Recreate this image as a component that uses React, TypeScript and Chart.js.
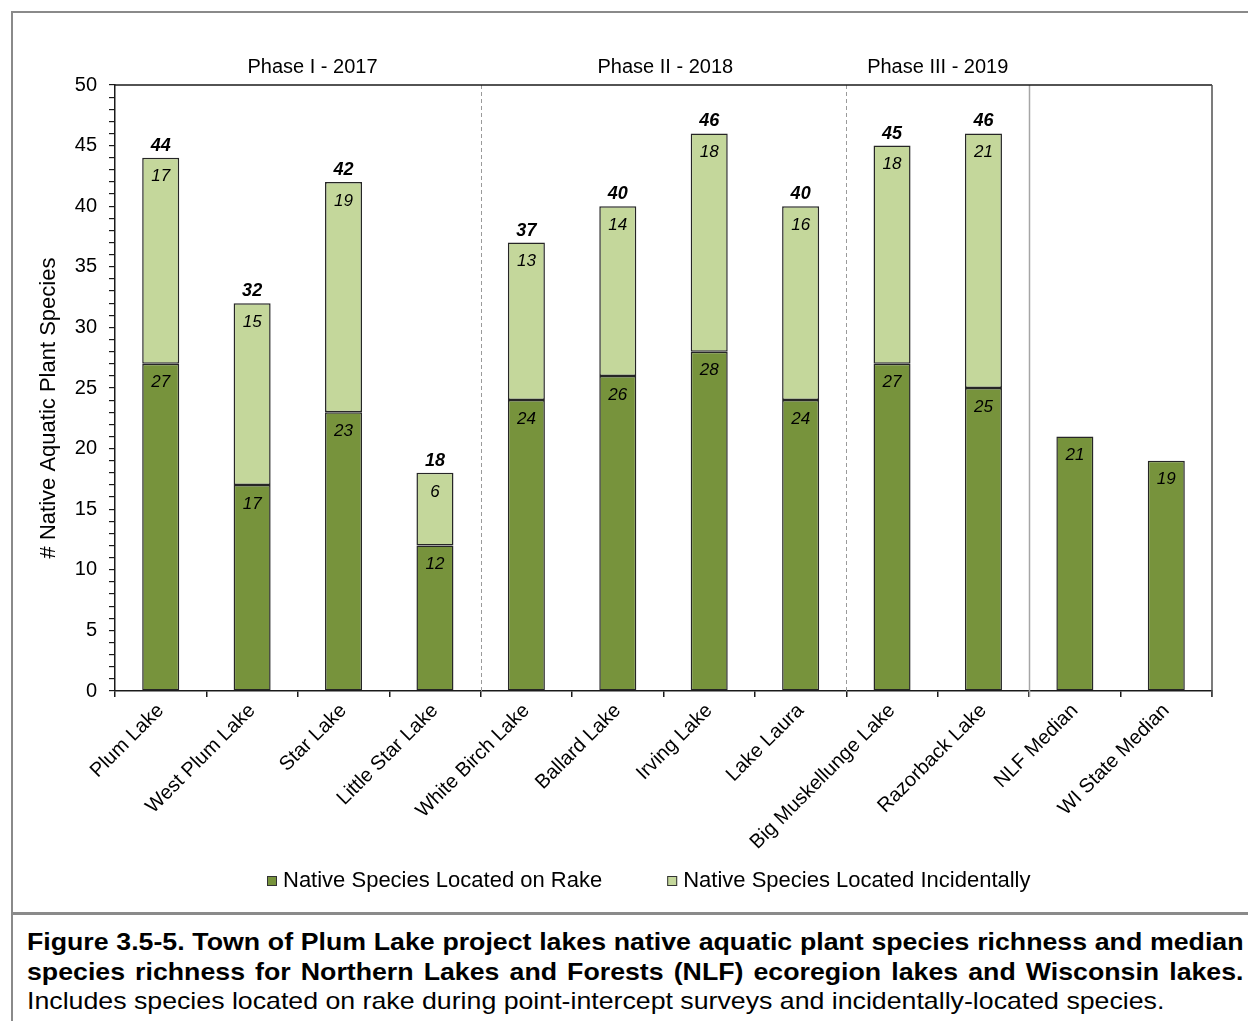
import React, { useEffect, useRef } from 'react';
import { Chart, registerables } from 'chart.js';

Chart.register(...registerables);

const FONT = "'Liberation Sans', Arial, Helvetica, sans-serif";

const categories = [
  'Plum Lake',
  'West Plum Lake',
  'Star Lake',
  'Little Star Lake',
  'White Birch Lake',
  'Ballard Lake',
  'Irving Lake',
  'Lake Laura',
  'Big Muskellunge Lake',
  'Razorback Lake',
  'NLF Median',
  'WI State Median',
];
const rakeSpecies = [27, 17, 23, 12, 24, 26, 28, 24, 27, 25, 21, 19];
const incidentalSpecies = [17, 15, 19, 6, 13, 14, 18, 16, 18, 21, null, null];
const seriesNames = ['Native Species Located on Rake', 'Native Species Located Incidentally'];
const seriesColors = ['#77933C', '#C4D79B'];
const phaseLabels = ['Phase I - 2017', 'Phase II - 2018', 'Phase III - 2019'];
const phaseCenters = [1.66, 5.52, 8.5];
const dashedDividers = [3.5, 7.5];
const solidDividers = [9.5];
const yAxisTitle = '# Native Aquatic Plant Species';
const captionLines = [
  'Figure 3.5-5.  Town of Plum Lake project lakes native aquatic plant species richness and median',
  'species richness for Northern Lakes and Forests (NLF) ecoregion lakes and Wisconsin lakes.',
  'Includes species located on rake during point-intercept surveys and incidentally-located species.',
];

const overlayPlugin = {
  id: 'overlay',
  beforeDatasetsDraw(chart: any) {
    const { ctx, chartArea: ca, scales } = chart;
    const x = scales.x;
    ctx.save();
    ctx.lineWidth = 1;
    ctx.strokeStyle = '#9a9a9a';
    ctx.setLineDash([4, 3]);
    dashedDividers.forEach((v) => {
      const px = Math.round(x.getPixelForValue(v)) + 0.5;
      ctx.beginPath();
      ctx.moveTo(px, ca.top);
      ctx.lineTo(px, ca.bottom);
      ctx.stroke();
    });
    ctx.setLineDash([]);
    ctx.strokeStyle = '#a6a6a6';
    ctx.lineWidth = 1.5;
    solidDividers.forEach((v) => {
      const px = Math.round(x.getPixelForValue(v)) + 0.5;
      ctx.beginPath();
      ctx.moveTo(px, ca.top);
      ctx.lineTo(px, ca.bottom + 6);
      ctx.stroke();
    });
    ctx.restore();
  },
  afterDatasetsDraw(chart: any) {
    const { ctx, chartArea: ca, scales } = chart;
    const x = scales.x;
    ctx.save();
    // plot border top + right
    ctx.strokeStyle = '#1a1a1a';
    ctx.lineWidth = 1.5;
    ctx.beginPath();
    ctx.moveTo(ca.left, ca.top);
    ctx.lineTo(ca.right, ca.top);
    ctx.stroke();
    ctx.strokeStyle = '#505050';
    ctx.beginPath();
    ctx.moveTo(ca.right, ca.top);
    ctx.lineTo(ca.right, ca.bottom + 6);
    ctx.stroke();

    // segment labels
    ctx.fillStyle = '#000';
    ctx.textAlign = 'center';
    ctx.textBaseline = 'middle';
    ctx.font = `italic 17px ${FONT}`;
    chart.data.datasets.forEach((ds: any, di: number) => {
      const meta = chart.getDatasetMeta(di);
      meta.data.forEach((bar: any, i: number) => {
        const v = ds.data[i];
        if (v === null || v === undefined) return;
        ctx.fillText(String(v), bar.x, bar.y + 19);
      });
    });
    // totals
    ctx.font = `bold italic 18px ${FONT}`;
    const topMeta = chart.getDatasetMeta(1);
    topMeta.data.forEach((bar: any, i: number) => {
      const inc = incidentalSpecies[i];
      if (inc === null || inc === undefined) return;
      const total = rakeSpecies[i] + inc;
      ctx.fillText(String(total), bar.x, bar.y - 12);
    });

    // phase labels
    ctx.font = `20px ${FONT}`;
    phaseLabels.forEach((t, i) => {
      ctx.fillText(t, x.getPixelForValue(phaseCenters[i]), 67);
    });

    // y-axis title
    ctx.save();
    ctx.translate(49, 408);
    ctx.rotate(-Math.PI / 2);
    ctx.font = `22px ${FONT}`;
    ctx.fillText(yAxisTitle, 0, 0);
    ctx.restore();

    // legend
    ctx.font = `22px ${FONT}`;
    ctx.textAlign = 'left';
    let lx = 267;
    const ly = 881;
    chart.data.datasets.forEach((ds: any) => {
      ctx.fillStyle = ds.backgroundColor;
      ctx.fillRect(lx, ly - 5, 10, 10);
      ctx.strokeStyle = '#333';
      ctx.lineWidth = 1;
      ctx.strokeRect(lx + 0.5, ly - 4.5, 9, 9);
      ctx.fillStyle = '#000';
      ctx.fillText(ds.label, lx + 16, ly);
      lx += 16 + ctx.measureText(ds.label).width + 65;
    });
    ctx.restore();
  },
};

export default function App() {
  const canvasRef = useRef<HTMLCanvasElement | null>(null);

  useEffect(() => {
    if (!canvasRef.current) return;
    const chart = new Chart(canvasRef.current, {
      type: 'bar',
      data: {
        labels: categories,
        datasets: [
          {
            label: seriesNames[0],
            data: rakeSpecies,
            backgroundColor: seriesColors[0],
            borderColor: '#262626',
            borderWidth: 1.5,
            borderSkipped: false,
          },
          {
            label: seriesNames[1],
            data: incidentalSpecies,
            backgroundColor: seriesColors[1],
            borderColor: '#262626',
            borderWidth: 1.5,
            borderSkipped: false,
          },
        ],
      },
      options: {
        animation: false,
        responsive: false,
        maintainAspectRatio: false,
        devicePixelRatio: 1,
        layout: { padding: { left: 0, top: 85, right: 36, bottom: 46 } },
        datasets: {
          bar: { categoryPercentage: 1, barPercentage: 0.405 },
        },
        plugins: {
          legend: { display: false },
          tooltip: { enabled: false },
          title: { display: false },
        },
        scales: {
          x: {
            stacked: true,
            offset: true,
            grid: {
              offset: true,
              drawOnChartArea: false,
              drawTicks: true,
              tickLength: 6,
              color: '#1a1a1a',
              lineWidth: 1.5,
            },
            border: { display: true, color: '#1a1a1a', width: 1.5 },
            ticks: {
              autoSkip: false,
              minRotation: 45,
              maxRotation: 45,
              padding: 2,
              color: '#000',
              font: { family: FONT, size: 20 },
            },
            afterFit: (s: any) => {
              s.height = 175;
            },
          },
          y: {
            stacked: true,
            min: 0,
            max: 50,
            grid: {
              drawOnChartArea: false,
              drawTicks: true,
              tickLength: 6,
              color: '#1a1a1a',
              lineWidth: 1.2,
            },
            border: { display: true, color: '#1a1a1a', width: 1.5 },
            ticks: {
              stepSize: 1,
              autoSkip: false,
              padding: 12,
              color: '#000',
              font: { family: FONT, size: 20 },
              callback: (v: any) => (Number(v) % 5 === 0 ? String(v) : ''),
            },
            afterFit: (s: any) => {
              s.width = 115;
            },
          },
        },
      },
      plugins: [overlayPlugin],
    });
    return () => chart.destroy();
  }, []);

  const stretch = 1.113;

  return (
    <div
      style={{
        position: 'absolute',
        left: 0,
        top: 0,
        width: 1248,
        height: 1021,
        overflow: 'hidden',
        background: '#fff',
        fontFamily: FONT,
      }}
    >
      <canvas ref={canvasRef} width={1248} height={912} style={{ position: 'absolute', left: 0, top: 0 }} />
      <div style={{ position: 'absolute', left: 11, top: 11, width: 1300, height: 2, background: '#8a8a8a' }} />
      <div style={{ position: 'absolute', left: 11, top: 11, width: 2, height: 1100, background: '#8a8a8a' }} />
      <div style={{ position: 'absolute', left: 11, top: 912, width: 1300, height: 3, background: '#8a8a8a' }} />
      <div
        style={{
          position: 'absolute',
          left: 27,
          top: 927,
          color: '#000',
          transform: `scaleX(${stretch})`,
          transformOrigin: 'left top',
        }}
      >
        {captionLines.map((line, i) => (
          <div
            key={i}
            style={{
              width: i < 2 ? Math.round(1216 / stretch) : 'auto',
              height: 29.5,
              lineHeight: '29.5px',
              fontSize: 24,
              fontWeight: i < 2 ? 'bold' : 'normal',
              whiteSpace: 'nowrap',
              textAlign: i < 2 ? 'justify' : 'left',
              textAlignLast: i < 2 ? 'justify' : 'auto',
            } as any}
          >
            {line}
          </div>
        ))}
      </div>
    </div>
  );
}
